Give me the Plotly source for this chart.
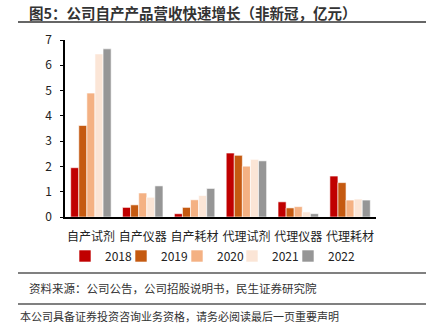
import plotly.graph_objects as go

categories = ["自产试剂", "自产仪器", "自产耗材", "代理试剂", "代理仪器", "代理耗材"]
years = ["2018", "2019", "2020", "2021", "2022"]
v2018 = [1.95, 0.38, 0.13, 2.53, 0.60, 1.62]
v2019 = [3.62, 0.48, 0.38, 2.44, 0.36, 1.36]
v2020 = [4.90, 0.95, 0.68, 2.01, 0.41, 0.67]
v2021 = [6.45, 0.78, 0.85, 2.28, 0.20, 0.71]
v2022 = [6.65, 1.23, 1.13, 2.22, 0.13, 0.67]
series = [v2018, v2019, v2020, v2021, v2022]
colors = ["#C00000", "#C55A11", "#F4B183", "#FBE5D6", "#969696"]

FONT = "Noto Sans CJK SC"
legend_px = [65, 121, 177, 232, 288]

fig = go.Figure()
layout_legends = {}
for i, (y, vals, c) in enumerate(zip(years, series, colors)):
    lname = "legend" if i == 0 else f"legend{i+1}"
    fig.add_trace(go.Bar(
        x=categories, y=vals, name=y, legend=lname,
        marker=dict(color=c, line=dict(color="white", width=0.6)),
    ))
    layout_legends[lname] = dict(
        orientation="h", x=(legend_px[i] - 65) / 311, xanchor="left",
        y=(217 - 256) / 177, yanchor="middle",
        font=dict(size=12, color="#222222"), itemwidth=30,
        bgcolor="rgba(0,0,0,0)", itemclick=False)

fig.update_layout(
    width=426, height=324,
    margin=dict(l=65, r=50, t=40, b=107),
    paper_bgcolor="white", plot_bgcolor="white",
    barmode="group", bargap=0.22, bargroupgap=0,
    font=dict(family=FONT, size=12, color="#222222"),
    showlegend=True,
    xaxis=dict(showline=True, linecolor="black", linewidth=2, ticks="",
               tickfont=dict(size=12, color="#222222"), showgrid=False,
               ticklabelstandoff=8, fixedrange=True),
    yaxis=dict(range=[0, 7], dtick=1, showline=True, linecolor="black", linewidth=1.5,
               ticks="outside", ticklen=3, tickcolor="black", tickwidth=1,
               showgrid=False, zeroline=False, ticklabelstandoff=6,
               tickfont=dict(size=12, color="#222222"), fixedrange=True),
    **layout_legends,
)

# Title and decorative lines
fig.add_annotation(text="<b>图5：公司自产产品营收快速增长（非新冠，亿元）</b>",
                   xref="paper", yref="paper", x=(27-65)/311, xanchor="left",
                   y=(217-13)/177, yanchor="middle", showarrow=False,
                   font=dict(size=14.5, color="#333333", family=FONT))
fig.add_annotation(text="资料来源：公司公告，公司招股说明书，民生证券研究院",
                   xref="paper", yref="paper", x=(27-65)/311, xanchor="left",
                   y=(217-287.5)/177, yanchor="middle", showarrow=False,
                   font=dict(size=11.5, color="#333333", family=FONT))
fig.add_annotation(text="本公司具备证券投资咨询业务资格，请务必阅读最后一页重要声明",
                   xref="paper", yref="paper", x=(18-65)/311, xanchor="left",
                   y=(217-316)/177, yanchor="middle", showarrow=False,
                   font=dict(size=11, color="#333333", family=FONT))

for yy, col, w in [(22, "#666666", 2), (273, "#808080", 2), (304, "#808080", 2)]:
    fig.add_shape(type="line", xref="paper", yref="paper",
                  x0=(18-65)/311, x1=(426-65)/311,
                  y0=(217-yy)/177, y1=(217-yy)/177,
                  line=dict(color=col, width=w))

fig.write_html("out.html")
